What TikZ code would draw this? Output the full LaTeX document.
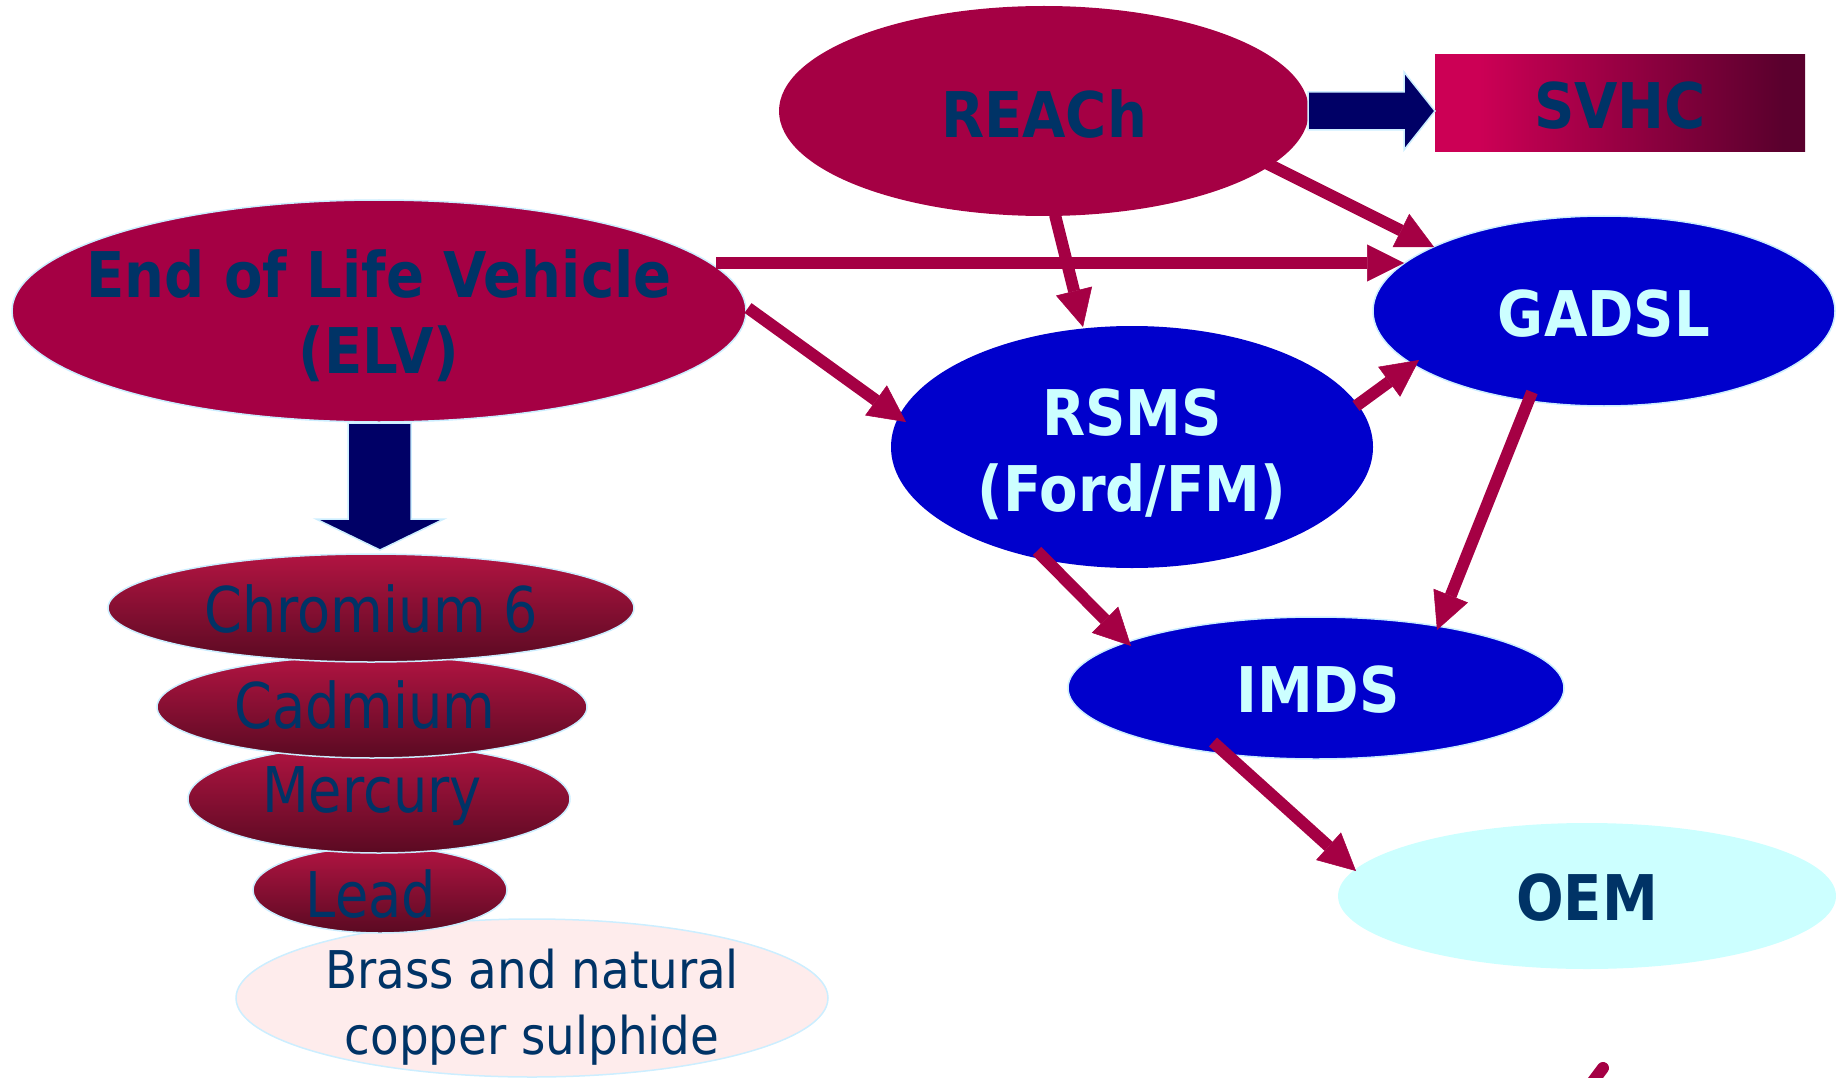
\documentclass[tikz,border=0pt]{standalone}
\usepackage{fontspec}
\usetikzlibrary{shapes.geometric,arrows.meta,calc}
\newfontfamily\labfont[FakeStretch=0.89]{DejaVu Sans}
\newfontfamily\metfont[FakeStretch=0.86]{DejaVu Sans}
\newfontfamily\brassfont[FakeStretch=0.9]{DejaVu Sans}
\definecolor{crim}{HTML}{A50044}
\definecolor{blu}{HTML}{0000CC}
\definecolor{cyanlt}{HTML}{CCFFFF}
\definecolor{txtdark}{HTML}{003366}
\definecolor{navyarr}{HTML}{000066}
\definecolor{edgeblue}{HTML}{CCEEFF}
\definecolor{svl}{HTML}{CC0055}
\definecolor{svr}{HTML}{5A002D}
\definecolor{mettop}{HTML}{B21442}
\definecolor{metbot}{HTML}{5A0A22}
\definecolor{brassfill}{HTML}{FEECEC}
\pgfdeclarehorizontalshading{svhcshade}{100bp}{color(0bp)=(svl); color(31bp)=(svl); color(72bp)=(svr); color(100bp)=(svr)}
\tikzset{
  base/.style={ellipse, inner sep=0pt, outer sep=0pt},
  redell/.style={base, fill=crim},
  blueell/.style={base, fill=blu},
  edgeline/.style={draw=edgeblue, line width=1.5pt},
  boldtxt/.style={font=\labfont\bfseries\fontsize{63}{76}\selectfont, text=txtdark, align=center},
  lighttxt/.style={boldtxt, text=cyanlt},
  mettxt/.style={font=\metfont\fontsize{63}{76}\selectfont, text=txtdark},
  brasstxt/.style={font=\brassfont\fontsize{52}{66}\selectfont, text=txtdark, align=center},
  metell/.style={base, top color=mettop, bottom color=metbot, draw=edgeblue, line width=1.5pt},
  conn/.style={draw=crim, line width=12pt, -{Triangle[length=37pt,width=37pt,line width=0.5pt]}},
  blockarrow/.style={fill=navyarr, draw=edgeblue, line width=1.5pt, line join=miter},
}
\begin{document}
\begin{tikzpicture}[x=1pt, y=-1pt]
\useasboundingbox (0,0) rectangle (1836,1078);

% metals (back to front)
\node[base, fill=brassfill, edgeline, minimum width=592pt, minimum height=158pt,
  label={[brasstxt, yshift=-9pt]center:{Brass and natural\\copper sulphide}}] (brass) at (532,998) {};
\node[metell, minimum width=254pt, minimum height=86pt,
  label={[mettxt, xshift=-9pt, yshift=-4pt]center:Lead}] (lead) at (380,890) {};
\node[metell, minimum width=382pt, minimum height=108pt,
  label={[mettxt, xshift=-7pt, yshift=3pt]center:Mercury}] (merc) at (379,799) {};
\node[metell, minimum width=430pt, minimum height=102pt,
  label={[mettxt, xshift=-7pt, yshift=2pt]center:Cadmium}] (cadm) at (372,707) {};
\node[metell, minimum width=526pt, minimum height=108pt,
  label={[mettxt, yshift=-1pt]center:Chromium 6}] (chrom) at (371,608) {};

% main ellipses
\node[redell, edgeline, minimum width=734pt, minimum height=222pt,
  label={[boldtxt, yshift=-5pt]center:{End of Life Vehicle\\(ELV)}}] (elv) at (379,311) {};
\node[redell, minimum width=530pt, minimum height=210pt,
  label={[boldtxt, yshift=-3pt]center:REACh}] (reach) at (1044,111) {};
\node[rectangle, inner sep=0pt, minimum width=370pt, minimum height=97pt, shade, shading=svhcshade,
  label={[boldtxt, yshift=-2pt]center:SVHC}] (svhc) at (1620,103.5) {};
\node[blueell, minimum width=482pt, minimum height=242pt,
  label={[lighttxt, yshift=-7pt]center:{RSMS\\(Ford/FM)}}] (rsms) at (1132,447) {};
\node[blueell, edgeline, minimum width=462pt, minimum height=190pt,
  label={[lighttxt, yshift=-3pt]center:GADSL}] (gadsl) at (1604,311) {};
\node[blueell, edgeline, minimum width=496pt, minimum height=142pt,
  label={[lighttxt, xshift=2pt, yshift=-2pt]center:IMDS}] (imds) at (1316,688) {};
\node[base, fill=cyanlt, minimum width=498pt, minimum height=146pt,
  label={[boldtxt, yshift=-2pt]center:OEM}] (oem) at (1587,896) {};

% block arrows
\path[blockarrow] ($(reach.east)+(-1,-19)$) -- ($(reach.east)+(95,-19)$) -- ($(reach.east)+(95,-39)$)
  -- ($(reach.east)+(126,0)$) -- ($(reach.east)+(95,39)$) -- ($(reach.east)+(95,19)$)
  -- ($(reach.east)+(-1,19)$) -- cycle;
\path[blockarrow] ($(elv.south)+(-31,1)$) -- ($(elv.south)+(32,1)$) -- ($(elv.south)+(32,97)$)
  -- ($(elv.south)+(65,97)$) -- ($(elv.south)+(1,128)$) -- ($(elv.south)+(-63,97)$)
  -- ($(elv.south)+(-31,97)$) -- cycle;

% connectors
\draw[conn] ($(reach.center)+(222,52)$) -- ($(gadsl.center)+(-170,-64)$);
\draw[conn] ($(reach.center)+(11,104)$) -- ($(rsms.center)+(-49,-120)$);
\draw[conn] ($(elv.center)+(337,-48)$) -- ($(gadsl.center)+(-200,-48)$);
\draw[conn] ($(elv.center)+(369,-3)$) -- ($(rsms.center)+(-226,-25)$);
\draw[conn] ($(rsms.center)+(224,-41)$) -- ($(gadsl.center)+(-185,49)$);
\draw[conn] ($(gadsl.center)+(-72,81)$) -- ($(imds.center)+(121,-58)$);
\draw[conn] ($(rsms.center)+(-95,104)$) -- ($(imds.center)+(-185,-42)$);
\draw[conn] ($(imds.center)+(-103,54)$) -- ($(oem.center)+(-231,-25)$);

% small cut-off stroke at bottom right
\draw[crim, line width=12pt, line cap=round] (1591,1084) -- (1603,1068);
\end{tikzpicture}
\end{document}
